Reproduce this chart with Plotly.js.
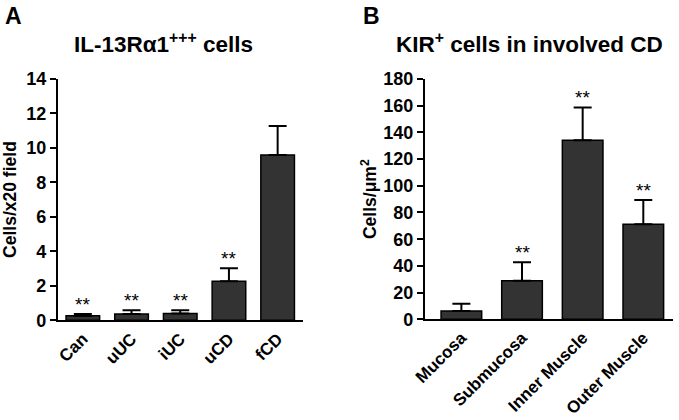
<!DOCTYPE html>
<html>
<head>
<meta charset="utf-8">
<script src="https://cdn.plot.ly/plotly-3.0.1.min.js"></script>
<style>
  html, body { margin: 0; padding: 0; background: #fff; }
  #chart { width: 679px; height: 420px; }
</style>
</head>
<body>
<div id="chart"></div>
<script>
// panel A: IL-13Ra1+++ cells
const catsA = ['Can', 'uUC', 'iUC', 'uCD', 'fCD'];
const meanA = [0.27, 0.36, 0.40, 2.26, 9.58];
const semA = [0.09, 0.22, 0.18, 0.75, 1.68];
const starsA = ['**', '**', '**', '**', ''];

// panel B: KIR+ cells in involved CD
const catsB = ['Mucosa', 'Submucosa', 'Inner Muscle', 'Outer Muscle'];
const meanB = [6.2, 28.9, 134.2, 71.1];
const semB = [5.5, 13.8, 24.5, 18.2];
const starsB = ['', '**', '**', '**'];

const font = { family: 'Liberation Sans, Arial, sans-serif', color: '#000', weight: 'bold' };

function barTrace(cats, vals, err, xa, ya, w) {
  return {
    type: 'bar', x: cats, y: vals, xaxis: xa, yaxis: ya, width: w,
    marker: { color: '#333333', line: { color: '#000', width: 1.5 } },
    error_y: { type: 'data', symmetric: false, array: err, arrayminus: vals.map(() => 0), color: '#000', thickness: 2, width: 9 },
    hoverinfo: 'skip'
  };
}

function starNotes(cats, vals, err, stars, xref, yref) {
  const out = [];
  cats.forEach((c, i) => {
    if (!stars[i]) return;
    out.push({
      xref, yref, x: c, y: vals[i] + err[i], text: stars[i], showarrow: false,
      xanchor: 'center', yanchor: 'bottom', yshift: -3, font: { ...font, size: 19, weight: 'normal' }
    });
  });
  return out;
}

function label(x, y, text, size) {
  return { xref: 'paper', yref: 'paper', x, y, text, showarrow: false, xanchor: 'center', yanchor: 'middle', font: { ...font, size } };
}

const yBase = {
  showline: true, linecolor: '#000', linewidth: 2, ticks: 'outside', ticklen: 6, tickwidth: 2,
  tickcolor: '#000', showgrid: false, zeroline: false, tickfont: { ...font, size: 18 }
};
const xBase = {
  showline: true, linecolor: '#000', linewidth: 2, ticks: '', showgrid: false, zeroline: false,
  tickangle: -45, tickfont: { ...font, size: 17 }, type: 'category'
};

const layout = {
  width: 679, height: 420,
  margin: { l: 0, r: 0, t: 0, b: 0 },
  paper_bgcolor: '#fff', plot_bgcolor: '#fff',
  font,
  showlegend: false,
  bargap: 0,
  xaxis: { ...xBase, domain: [0.0854, 0.4462], range: [-0.51, 4.52], anchor: 'y' },
  yaxis: {
    ...yBase, domain: [0.2374, 0.8124], range: [0, 14], dtick: 2, anchor: 'x',
    title: { text: 'Cells/x20 field', font: { ...font, size: 17.5 }, standoff: 5 }
  },
  xaxis2: { ...xBase, domain: [0.6259, 0.9912], range: [-0.6, 3.49], anchor: 'y2' },
  yaxis2: {
    ...yBase, domain: [0.2398, 0.8119], range: [0, 180], dtick: 20, anchor: 'x2',
    title: { text: 'Cells/μm<sup>2</sup>', font: { ...font, size: 17.5 }, standoff: 2 }
  },
  annotations: [
    label(0.0206, 0.962, 'A', 23),
    label(0.5464, 0.962, 'B', 23),
    label(0.2415, 0.8976, 'IL-13Rα1<sup>+++</sup> cells', 22.5),
    label(0.7798, 0.8976, 'KIR<sup>+</sup> cells in involved CD', 22.5),
    ...starNotes(catsA, meanA, semA, starsA, 'x', 'y'),
    ...starNotes(catsB, meanB, semB, starsB, 'x2', 'y2')
  ]
};

Plotly.newPlot('chart', [
  barTrace(catsA, meanA, semA, 'x', 'y', 0.69),
  barTrace(catsB, meanB, semB, 'x2', 'y2', 0.67)
], layout, { staticPlot: true, displayModeBar: false });
</script>
</body>
</html>
